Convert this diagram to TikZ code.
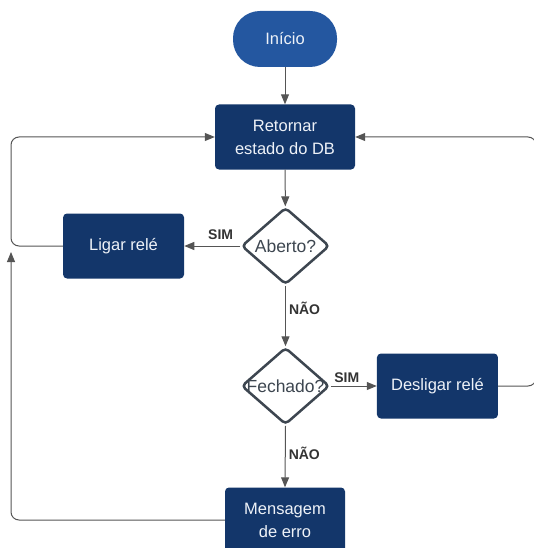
\documentclass[tikz,border=0pt]{standalone}
\usepackage{fontspec}
\setmainfont{Liberation Sans}
\usepackage{tikz}
\usetikzlibrary{arrows.meta}
\usetikzlibrary{positioning}
\usetikzlibrary{shapes.geometric}

\definecolor{azulclaro}{HTML}{2457A0}
\definecolor{azulescuro}{HTML}{13366A}
\definecolor{cinzalosango}{HTML}{3D4650}
\definecolor{cinzalinha}{HTML}{555555}
\definecolor{textoclaro}{HTML}{EEF2F8}

\tikzset{
  caixa/.style={fill=azulescuro,rounded corners=4pt,text=textoclaro,align=center,
    minimum width=121pt,minimum height=65pt,font=\fontsize{16.5}{23}\selectfont},
  losango/.style={diamond,draw=cinzalosango,line width=2.5pt,rounded corners=4pt,fill=white,
    minimum width=88pt,minimum height=77pt,inner sep=0pt},
  seta/.style={draw=cinzalinha,line width=1pt,-{Triangle[length=10pt,width=8pt]}},
  volta/.style={seta,rounded corners=8pt},
  resposta/.style={text=black!80,font=\fontsize{14}{16}\selectfont\bfseries,inner sep=3pt}
}

\begin{document}
\begin{tikzpicture}[x=1pt,y=-1pt]
  \useasboundingbox (0,0) rectangle (534,548);
  \coordinate (esq) at (11,252);
  \coordinate (dir) at (536,137);

  \node (inicio) at (285,39) [caixa,fill=azulclaro,rounded corners=27pt,minimum width=104pt,minimum height=56pt]{Início};
  \node (retornar) at (285,137) [caixa,minimum width=140pt]{Retornar\\estado do DB};
  \node (aberto) at (285.5,246) [losango,label={[text=cinzalosango,font=\fontsize{17.5}{19}\selectfont]center:Aberto?}]{};
  \node[left=56pt of aberto] (ligar) [caixa]{Ligar relé};
  \node (fechado) at (285.5,386) [losango,label={[text=cinzalosango,font=\fontsize{17.5}{19}\selectfont]center:Fechado?}]{};
  \node[right=46pt of fechado] (desligar) [caixa]{Desligar relé};
  \node (mensagem) at (285,520) [caixa,minimum width=120pt]{Mensagem\\de erro};

  \draw[seta](inicio)--(retornar);
  \draw[seta](retornar)--(aberto);
  \draw[seta](aberto.west)--node[resposta,above,pos=0.35,yshift=3pt]{SIM}(ligar.east);
  \draw[seta](aberto.south)--node[resposta,right,pos=0.37]{NÃO}(fechado.north);
  \draw[seta](fechado.east)--node[resposta,above,pos=0.35]{SIM}(desligar.west);
  \draw[seta](fechado.south)--node[resposta,right,pos=0.45]{NÃO}(mensagem.north);

  \draw[volta](ligar.west)--(ligar.west -| esq)|-(retornar.west);
  \draw[volta](mensagem.west)-|(esq);
  \draw[volta](desligar.east)--(desligar.east -| dir)|-(retornar.east);
\end{tikzpicture}
\end{document}
